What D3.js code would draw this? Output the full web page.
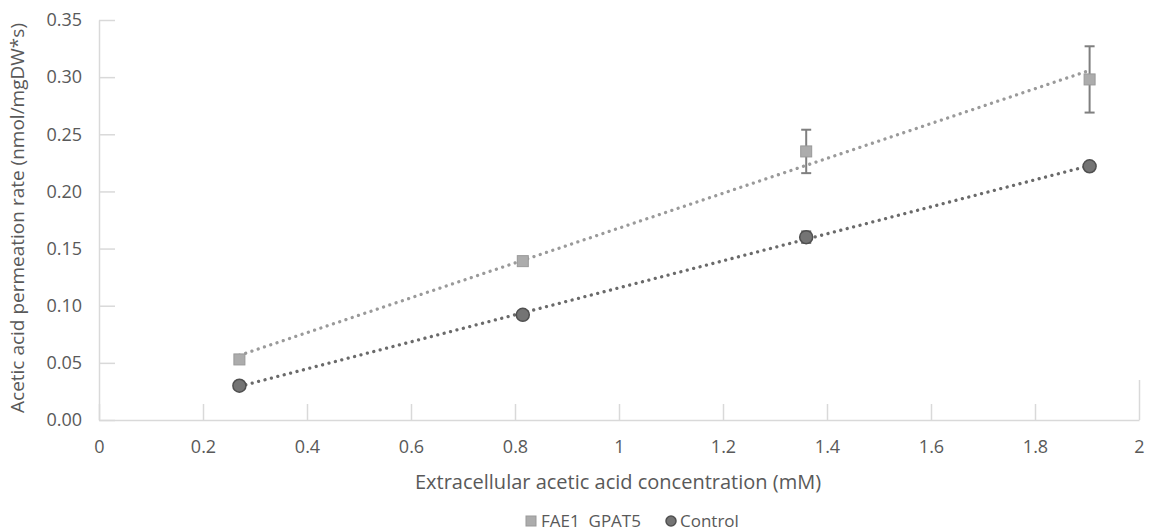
<!DOCTYPE html>
<html><head><meta charset="utf-8">
<script src="https://cdn.jsdelivr.net/npm/d3@7"></script>
<style>body{margin:0;background:#fff}svg{display:block}text{font-family:"Open Sans",sans-serif;fill:#595959;white-space:pre}</style>
</head><body>
<svg id="c" width="1152" height="532"></svg>
<script>
const xValues = [0.27, 0.815, 1.36, 1.905];
const faeValues = [0.053, 0.139, 0.235, 0.298];
const faeErr = [0.002, 0.002, 0.019, 0.029];
const ctrlValues = [0.030, 0.092, 0.160, 0.222];
const ctrlErr = [0.002, 0.003, 0.005, 0.003];
const xTicks = [0, 0.2, 0.4, 0.6, 0.8, 1, 1.2, 1.4, 1.6, 1.8, 2];
const yTicks = [0, 0.05, 0.10, 0.15, 0.20, 0.25, 0.30, 0.35];
const seriesNames = ["FAE1  GPAT5", "Control"];

const svg = d3.select("#c");
const x = d3.scaleLinear().domain([0, 2]).range([99, 1139]);
const y = d3.scaleLinear().domain([0, 0.35]).range([420, 20]);

// axes
const xAxis = svg.append("g").attr("transform", "translate(0,420)")
  .call(d3.axisBottom(x).tickValues(xTicks).tickSize(0).tickPadding(20).tickFormat(d => d3.format("")(d)));
xAxis.select(".domain").attr("stroke", "#d9d9d9").attr("stroke-width", 1.5);
xAxis.selectAll("text").attr("font-size", 18).attr("fill", "#595959");
xAxis.selectAll(".tick").append("line").attr("y1", 0).attr("y2", (d, i) => i === xTicks.length - 1 ? -40 : -16)
  .attr("stroke", "#d9d9d9").attr("stroke-width", 1.5);

const yAxis = svg.append("g").attr("transform", "translate(99,0)")
  .call(d3.axisLeft(y).tickValues(yTicks).tickSize(0).tickPadding(17).tickFormat(d3.format(".2f")));
yAxis.select(".domain").attr("stroke", "#d9d9d9").attr("stroke-width", 1.5);
yAxis.selectAll("text").attr("font-size", 18).attr("fill", "#595959");
yAxis.selectAll(".tick").append("line").attr("x1", 0).attr("x2", 16).attr("stroke", "#d9d9d9").attr("stroke-width", 1.5);

svg.append("text").attr("x", 618).attr("y", 489).attr("text-anchor", "middle").attr("font-size", 20)
  .text("Extracellular acetic acid concentration (mM)");
svg.append("text").attr("transform", "translate(24,218) rotate(-90)").attr("text-anchor", "middle").attr("font-size", 19)
  .text("Acetic acid permeation rate (nmol/mgDW*s)");

function fit(xs, ys) {
  const mx = d3.mean(xs), my = d3.mean(ys);
  let sxy = 0, sxx = 0;
  xs.forEach((v, i) => { sxy += (v - mx) * (ys[i] - my); sxx += (v - mx) * (v - mx); });
  const b = sxy / sxx, a = my - b * mx;
  return v => a + b * v;
}

function drawSeries(vals, errs, lineColor, errColor, marker) {
  const f = fit(xValues, vals);
  const x0 = xValues[0], x1 = xValues[xValues.length - 1];
  svg.append("line").attr("x1", x(x0)).attr("y1", y(f(x0))).attr("x2", x(x1)).attr("y2", y(f(x1)))
    .attr("stroke", lineColor).attr("stroke-width", 3.3).attr("stroke-linecap", "round")
    .attr("stroke-dasharray", "0.01 6.6");
  const g = svg.append("g");
  xValues.forEach((xv, i) => {
    const cx = x(xv), top = y(vals[i] + errs[i]), bot = y(vals[i] - errs[i]);
    g.append("line").attr("x1", cx).attr("x2", cx).attr("y1", top).attr("y2", bot).attr("stroke", errColor).attr("stroke-width", 2);
    [top, bot].forEach(yy => g.append("line").attr("x1", cx - 5).attr("x2", cx + 5).attr("y1", yy).attr("y2", yy).attr("stroke", errColor).attr("stroke-width", 2));
  });
  xValues.forEach((xv, i) => marker(g, x(xv), y(vals[i])));
}

const square = (g, cx, cy, s = 11) => g.append("rect").attr("x", cx - s / 2).attr("y", cy - s / 2).attr("width", s).attr("height", s)
  .attr("fill", "#acacac").attr("stroke", "#999999").attr("stroke-width", 1);
const circle = (g, cx, cy, r = 6.5) => g.append("circle").attr("cx", cx).attr("cy", cy).attr("r", r)
  .attr("fill", "#747474").attr("stroke", "#505050").attr("stroke-width", 1.5);

drawSeries(faeValues, faeErr, "#9a9a9a", "#7f7f7f", square);
drawSeries(ctrlValues, ctrlErr, "#6a6a6a", "#6a6a6a", circle);

// legend
const lg = svg.append("g");
square(lg, 531, 521, 10);
lg.append("text").attr("x", 541).attr("y", 527).attr("font-size", 17).text(seriesNames[0]);
circle(lg, 671, 521, 5);
lg.append("text").attr("x", 680).attr("y", 527).attr("font-size", 17).text(seriesNames[1]);
</script>
</body></html>
